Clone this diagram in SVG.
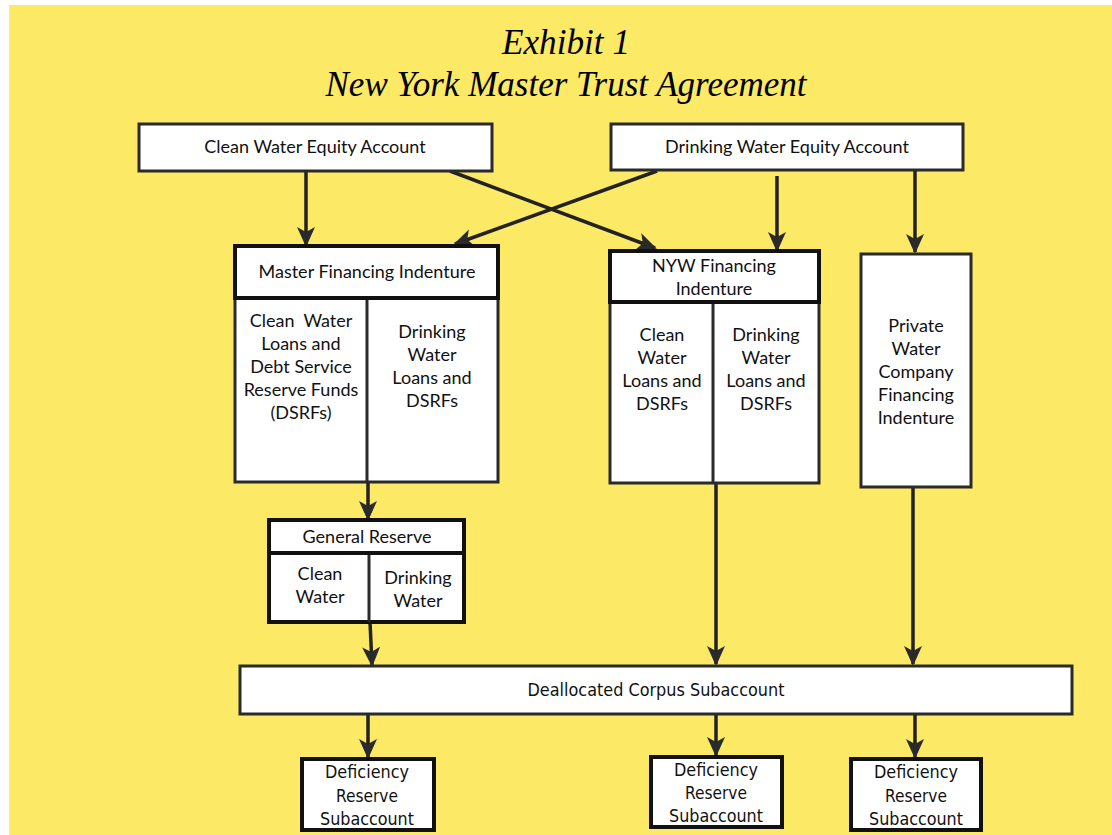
<svg xmlns="http://www.w3.org/2000/svg" width="1112" height="835" viewBox="0 0 1112 835">
<style>
.bx{fill:#fff;stroke:#2a2a2a;stroke-width:3}
.bk{fill:#fff;stroke:#111;stroke-width:4}
.t{font-family:Lato,"Open Sans",sans-serif;font-size:18px;fill:#111;text-anchor:middle}
.c{font-family:"DejaVu Sans Condensed","DejaVu Sans",sans-serif;font-stretch:condensed;font-size:17px;fill:#111;text-anchor:middle}
.ttl{font-family:"Liberation Serif",serif;font-style:italic;font-size:36px;fill:#000;text-anchor:middle}
.ln{stroke:#222;stroke-width:3.5;fill:none;marker-end:url(#ah)}
.dv{stroke:#2a2a2a;stroke-width:3}
</style>
<defs>
<marker id="ah" viewBox="0 0 20 20" refX="18" refY="10" markerWidth="20" markerHeight="20" markerUnits="userSpaceOnUse" orient="auto">
<path d="M0,1 L20,10 L0,19 L5,10 Z" fill="#2a2a2a"/>
</marker>
</defs>
<rect x="0" y="0" width="1112" height="835" fill="#fff"/>
<rect x="9" y="5" width="1103" height="830" fill="#fce965"/>
<g id="title">
<text class="ttl" x="566" y="54" textLength="128" lengthAdjust="spacingAndGlyphs">Exhibit 1</text>
<text class="ttl" x="566" y="96" textLength="481" lengthAdjust="spacingAndGlyphs">New York Master Trust Agreement</text>
</g>
<g id="connectors">
<line class="ln" x1="306" y1="171" x2="306" y2="245"/>
<line class="ln" x1="450" y1="171" x2="655" y2="248"/>
<line class="ln" x1="657" y1="171" x2="455" y2="244"/>
<line class="ln" x1="777" y1="176" x2="777" y2="250"/>
<line class="ln" x1="915" y1="170" x2="915" y2="252"/>
<line class="ln" x1="368" y1="482" x2="368" y2="519"/>
<line class="ln" x1="370" y1="622" x2="372" y2="665"/>
<line class="ln" x1="716" y1="483" x2="716" y2="664"/>
<line class="ln" x1="913" y1="487" x2="913" y2="664"/>
<line class="ln" x1="368" y1="714" x2="368" y2="757"/>
<line class="ln" x1="716" y1="714" x2="716" y2="755"/>
<line class="ln" x1="915" y1="714" x2="915" y2="757"/>
</g>
<g id="cwea">
<rect class="bx" x="139" y="124" width="353" height="47"/>
<text class="t" x="315" y="153">Clean Water Equity Account</text>
</g>
<g id="dwea">
<rect class="bx" x="611" y="124" width="352" height="46"/>
<text class="t" x="787" y="153">Drinking Water Equity Account</text>
</g>
<g id="mfi">
<rect class="bx" x="235" y="298" width="263" height="184"/>
<line class="dv" x1="367" y1="298" x2="367" y2="482"/>
<rect class="bk" x="235" y="246" width="263" height="52"/>
<text class="t" x="367" y="278">Master Financing Indenture</text>
<text class="t" x="301" y="327">Clean&#160; Water</text>
<text class="t" x="301" y="350">Loans and</text>
<text class="t" x="301" y="373">Debt Service</text>
<text class="t" x="301" y="396">Reserve Funds</text>
<text class="t" x="301" y="419">(DSRFs)</text>
<text class="t" x="432" y="338">Drinking</text>
<text class="t" x="432" y="361">Water</text>
<text class="t" x="432" y="384">Loans and</text>
<text class="t" x="432" y="407">DSRFs</text>
</g>
<g id="nyw">
<rect class="bx" x="610" y="302" width="209" height="181"/>
<line class="dv" x1="713" y1="302" x2="713" y2="483"/>
<rect class="bk" x="610" y="251" width="209" height="51"/>
<text class="t" x="714" y="272">NYW Financing</text>
<text class="t" x="714" y="295">Indenture</text>
<text class="t" x="662" y="341">Clean</text>
<text class="t" x="662" y="364">Water</text>
<text class="t" x="662" y="387">Loans and</text>
<text class="t" x="662" y="410">DSRFs</text>
<text class="t" x="766" y="341">Drinking</text>
<text class="t" x="766" y="364">Water</text>
<text class="t" x="766" y="387">Loans and</text>
<text class="t" x="766" y="410">DSRFs</text>
</g>
<g id="private">
<rect class="bx" x="861" y="254" width="110" height="233"/>
<text class="t" x="916" y="332">Private</text>
<text class="t" x="916" y="355">Water</text>
<text class="t" x="916" y="378">Company</text>
<text class="t" x="916" y="401">Financing</text>
<text class="t" x="916" y="424">Indenture</text>
</g>
<g id="general-reserve">
<rect class="bk" x="269" y="553" width="195" height="69"/>
<line class="dv" x1="369" y1="553" x2="369" y2="622"/>
<rect class="bk" x="269" y="520" width="195" height="33"/>
<text class="t" x="367" y="543">General Reserve</text>
<text class="t" x="320" y="580">Clean</text>
<text class="t" x="320" y="603">Water</text>
<text class="t" x="418" y="584">Drinking</text>
<text class="t" x="418" y="607">Water</text>
</g>
<g id="deallocated">
<rect class="bx" x="240" y="666" width="832" height="48"/>
<text class="c" x="656" y="696" textLength="257" lengthAdjust="spacingAndGlyphs">Deallocated Corpus Subaccount</text>
</g>
<g id="def1">
<rect class="bk" x="302" y="759" width="132" height="71"/>
<text class="c" x="367" y="778" textLength="84" lengthAdjust="spacingAndGlyphs">Deficiency</text>
<text class="c" x="367" y="802" textLength="62" lengthAdjust="spacingAndGlyphs">Reserve</text>
<text class="c" x="367" y="825" textLength="94" lengthAdjust="spacingAndGlyphs">Subaccount</text>
</g>
<g id="def2">
<rect class="bk" x="651" y="757" width="131" height="70"/>
<text class="c" x="716" y="776" textLength="84" lengthAdjust="spacingAndGlyphs">Deficiency</text>
<text class="c" x="716" y="799" textLength="62" lengthAdjust="spacingAndGlyphs">Reserve</text>
<text class="c" x="716" y="822" textLength="94" lengthAdjust="spacingAndGlyphs">Subaccount</text>
</g>
<g id="def3">
<rect class="bk" x="851" y="759" width="130" height="71"/>
<text class="c" x="916" y="778" textLength="84" lengthAdjust="spacingAndGlyphs">Deficiency</text>
<text class="c" x="916" y="802" textLength="62" lengthAdjust="spacingAndGlyphs">Reserve</text>
<text class="c" x="916" y="825" textLength="94" lengthAdjust="spacingAndGlyphs">Subaccount</text>
</g>
</svg>
